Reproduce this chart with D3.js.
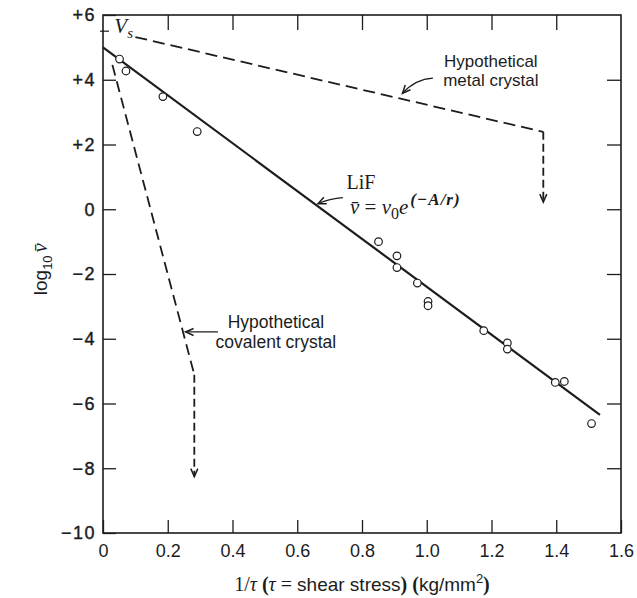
<!DOCTYPE html>
<html><head><meta charset="utf-8">
<script src="https://cdn.jsdelivr.net/npm/d3@7/dist/d3.min.js"></script>
<style>
html,body{margin:0;padding:0;background:#fff;}
svg{display:block;}
</style></head>
<body>
<svg id="chart" width="637" height="598"></svg>
<script>
// ---------- data ----------
const xTicks = [0, 0.2, 0.4, 0.6, 0.8, 1.0, 1.2, 1.4, 1.6];
const xTickLabels = ["0", "0.2", "0.4", "0.6", "0.8", "1.0", "1.2", "1.4", "1.6"];
const yTicks = [6, 4, 2, 0, -2, -4, -6, -8, -10];
const yTickLabels = ["+6", "+4", "+2", "0", "\u22122", "\u22124", "\u22126", "\u22128", "\u221210"];

// LiF measured points
const lifX = [0.051, 0.071, 0.185, 0.291, 0.851, 0.908, 0.908, 0.971, 1.004, 1.004, 1.176, 1.249, 1.249, 1.397, 1.425, 1.509];
const lifY = [4.64, 4.27, 3.48, 2.40, -1.00, -1.44, -1.80, -2.28, -2.85, -2.98, -3.75, -4.13, -4.32, -5.35, -5.32, -6.62];

// LiF fitted line
const fitX = [0, 1.535];
const fitY = [5.0, -6.35];

// Hypothetical metal crystal (dashed)
const metalX = [0.10, 1.36];
const metalY = [5.32, 2.39];
const metalDropX = [1.36, 1.36];
const metalDropY = [2.39, 0.22];

// Hypothetical covalent crystal (dashed)
const covX = [0.029, 0.282];
const covY = [4.46, -5.11];
const covDropX = [0.282, 0.282];
const covDropY = [-5.11, -8.26];

const vsValue = 5.5;

// ---------- layout ----------
const svg = d3.select("#chart");
const mLeft = 103, mRight = 621, mTop = 15, mBottom = 533;
const x = d3.scaleLinear().domain([0, 1.6]).range([mLeft, mRight]);
const y = d3.scaleLinear().domain([-10, 6]).range([mBottom, mTop]);
const ink = "#1c1c1c";
const sans = "'Liberation Sans', Arial, Helvetica, sans-serif";
const serif = "'Liberation Serif', 'DejaVu Serif', 'Times New Roman', serif";

// arrow marker
const defs = svg.append("defs");
defs.append("marker").attr("id", "arr")
  .attr("markerUnits", "userSpaceOnUse")
  .attr("viewBox", "-10 -6 12 12").attr("refX", 0).attr("refY", 0)
  .attr("markerWidth", 12).attr("markerHeight", 12).attr("orient", "auto")
  .append("path").attr("d", "M-8,-3.5 L0,0 L-8,3.5")
  .attr("fill", "none").attr("stroke", ink).attr("stroke-width", 1.5);

// frame
svg.append("rect").attr("x", mLeft).attr("y", mTop)
  .attr("width", mRight - mLeft).attr("height", mBottom - mTop)
  .attr("fill", "none").attr("stroke", ink).attr("stroke-width", 1.6);

function styleAxis(g, size) {
  g.select(".domain").remove();
  g.selectAll(".tick line").attr("stroke", ink).attr("stroke-width", 1.3);
  g.selectAll(".tick text").attr("fill", ink).style("font-family", sans).style("font-size", size || "18px");
}

// bottom axis
svg.append("g").attr("transform", `translate(0,${mBottom})`)
  .call(d3.axisBottom(x).tickValues(xTicks).tickSizeInner(-13).tickSizeOuter(0).tickPadding(11)
    .tickFormat((d, i) => xTickLabels[i]))
  .call(styleAxis, "18px");
// top axis ticks
svg.append("g").attr("transform", `translate(0,${mTop})`)
  .call(d3.axisTop(x).tickValues(xTicks.slice(1, -1)).tickSizeInner(-15).tickSizeOuter(0).tickFormat(""))
  .call(styleAxis);
// left axis
svg.append("g").attr("transform", `translate(${mLeft},0)`)
  .call(d3.axisLeft(y).tickValues(yTicks).tickSizeInner(-13).tickSizeOuter(0).tickPadding(7)
    .tickFormat((d, i) => yTickLabels[i]))
  .call(styleAxis, "18px")
  .selectAll(".tick text").attr("letter-spacing", "1.5px").attr("stroke", ink).attr("stroke-width", 0.4);
// right axis ticks
svg.append("g").attr("transform", `translate(${mRight},0)`)
  .call(d3.axisRight(y).tickValues(yTicks.slice(1, -1)).tickSizeInner(-14).tickSizeOuter(0).tickFormat(""))
  .call(styleAxis);

// V_s marker tick
svg.append("line").attr("x1", x(0) - 3).attr("x2", x(0) + 6)
  .attr("y1", y(vsValue)).attr("y2", y(vsValue)).attr("stroke", ink).attr("stroke-width", 1.2);
const vs = svg.append("text").attr("x", x(0.035)).attr("y", y(5.45))
  .style("font-family", serif).style("font-size", "21px").style("font-style", "italic").attr("fill", ink);
vs.append("tspan").text("V");
vs.append("tspan").attr("dy", 5).style("font-size", "15px").text("s");

const line = d3.line().x(d => x(d[0])).y(d => y(d[1]));
const zip = (a, b) => a.map((v, i) => [v, b[i]]);

// LiF fit
svg.append("path").datum(zip(fitX, fitY)).attr("d", line)
  .attr("fill", "none").attr("stroke", ink).attr("stroke-width", 2.2);

// metal
svg.append("path").datum(zip(metalX, metalY)).attr("d", line)
  .attr("fill", "none").attr("stroke", ink).attr("stroke-width", 1.8).attr("stroke-dasharray", "12,6");
svg.append("path").datum(zip(metalDropX, metalDropY)).attr("d", line)
  .attr("fill", "none").attr("stroke", ink).attr("stroke-width", 1.8).attr("stroke-dasharray", "8,4")
  .attr("marker-end", "url(#arr)");

// covalent
svg.append("path").datum(zip(covX, covY)).attr("d", line)
  .attr("fill", "none").attr("stroke", ink).attr("stroke-width", 1.8).attr("stroke-dasharray", "11,6");
svg.append("path").datum(zip(covDropX, covDropY)).attr("d", line)
  .attr("fill", "none").attr("stroke", ink).attr("stroke-width", 1.8).attr("stroke-dasharray", "8,4")
  .attr("marker-end", "url(#arr)");

// points
svg.append("g").selectAll("circle").data(zip(lifX, lifY)).join("circle")
  .attr("cx", d => x(d[0])).attr("cy", d => y(d[1])).attr("r", 3.8)
  .attr("fill", "#fff").attr("stroke", ink).attr("stroke-width", 1.2);

// ---------- annotations ----------
function curveArrow(x0, y0, cx, cy, x1, y1) {
  svg.append("path")
    .attr("d", `M${x(x0)},${y(y0)} Q${x(cx)},${y(cy)} ${x(x1)},${y(y1)}`)
    .attr("fill", "none").attr("stroke", ink).attr("stroke-width", 1.3)
    .attr("marker-end", "url(#arr)");
}

// metal label
const mt = svg.append("text").attr("x", x(1.198)).attr("y", y(4.38)).attr("text-anchor", "middle")
  .style("font-family", sans).style("font-size", "17px").attr("fill", ink);
mt.append("tspan").attr("x", x(1.198)).text("Hypothetical");
mt.append("tspan").attr("x", x(1.198)).attr("dy", 19).text("metal crystal");
curveArrow(1.019, 4.05, 0.965, 4.02, 0.925, 3.58);

// covalent label
const ct = svg.append("text").attr("x", x(0.534)).attr("y", y(-3.67)).attr("text-anchor", "middle")
  .style("font-family", sans).style("font-size", "17.5px").attr("fill", ink);
ct.append("tspan").attr("x", x(0.534)).text("Hypothetical");
ct.append("tspan").attr("x", x(0.534)).attr("dy", 20).text("covalent crystal");
curveArrow(0.355, -3.79, 0.30, -3.79, 0.255, -3.79);

// LiF label
svg.append("text").attr("x", x(0.752)).attr("y", y(0.62))
  .style("font-family", serif).style("font-size", "20px").attr("fill", ink).text("LiF");
curveArrow(0.741, 0.36, 0.70, 0.33, 0.664, 0.17);
const ft = svg.append("text").attr("x", x(0.763)).attr("y", y(-0.15))
  .style("font-family", serif).style("font-size", "21px").attr("fill", ink);
ft.append("tspan").style("font-style", "italic").text("v\u0304");
ft.append("tspan").text(" = ");
ft.append("tspan").style("font-style", "italic").text("v");
ft.append("tspan").attr("dy", 5).style("font-size", "16px").text("0");
ft.append("tspan").attr("dy", -5).style("font-style", "italic").text("e");
ft.append("tspan").attr("dy", -9).attr("dx", 2).style("font-size", "17px").style("font-style", "italic")
  .style("font-weight", "bold").attr("letter-spacing", "1px").text("(\u2212A/r)");

// x axis title
const xt = svg.append("text").attr("x", x(0.8)).attr("y", 591).attr("text-anchor", "middle")
  .style("font-family", sans).style("font-size", "19px").attr("fill", ink);
xt.append("tspan").style("font-family", serif).style("font-size", "20px").text("1/");
xt.append("tspan").style("font-family", serif).style("font-size", "20px").style("font-style", "italic").text("\u03c4");
xt.append("tspan").style("font-family", serif).style("font-size", "20px").style("font-weight", "bold").text(" (");
xt.append("tspan").style("font-family", serif).style("font-size", "20px").style("font-style", "italic").text("\u03c4");
xt.append("tspan").style("font-family", serif).style("font-size", "20px").text(" = ");
xt.append("tspan").text("shear stress");
xt.append("tspan").style("font-family", serif).style("font-size", "20px").style("font-weight", "bold").text(") (");
xt.append("tspan").text("kg/mm");
xt.append("tspan").attr("dy", -8).style("font-size", "13px").text("2");
xt.append("tspan").attr("dy", 8).style("font-family", serif).style("font-size", "20px").style("font-weight", "bold").text(")");

// y axis title
const yt = svg.append("text").attr("transform", `translate(47,${y(-1.85)}) rotate(-90)`)
  .attr("text-anchor", "middle").style("font-family", sans).style("font-size", "19px").attr("fill", ink);
yt.append("tspan").text("log");
yt.append("tspan").attr("dy", 5).style("font-size", "13px").text("10");
yt.append("tspan").attr("dy", -5).attr("dx", 3).style("font-family", serif).style("font-size", "21px").style("font-style", "italic").text("v\u0304");
</script>
</body></html>
